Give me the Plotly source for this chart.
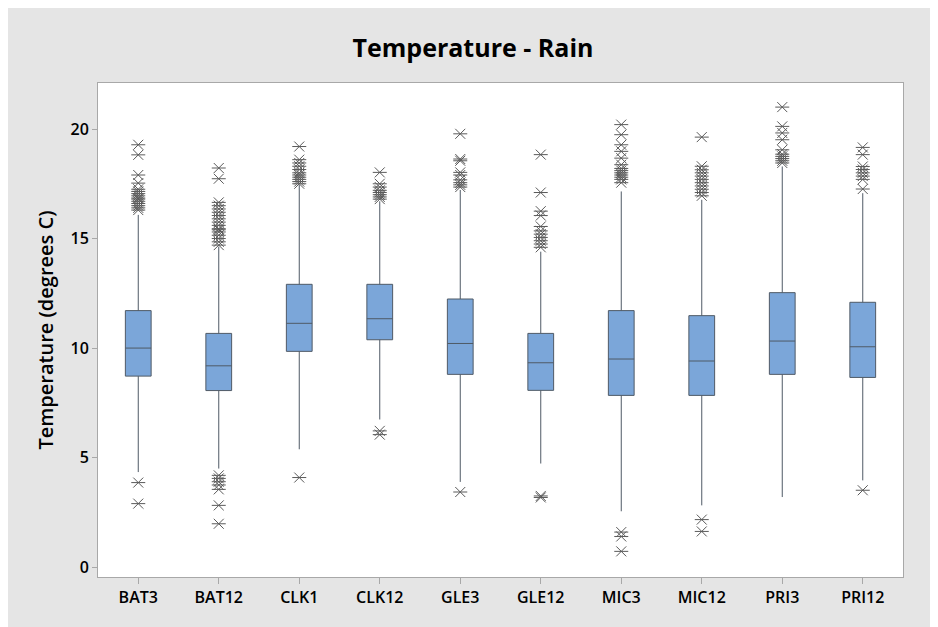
import plotly.graph_objects as go

categories = ["BAT3", "BAT12", "CLK1", "CLK12", "GLE3", "GLE12", "MIC3", "MIC12", "PRI3", "PRI12"]
q1 = [8.72, 8.06, 9.85, 10.38, 8.80, 8.07, 7.84, 7.84, 8.80, 8.66]
median = [10.00, 9.19, 11.13, 11.34, 10.21, 9.33, 9.50, 9.41, 10.32, 10.06]
q3 = [11.71, 10.67, 12.91, 12.91, 12.24, 10.67, 11.71, 11.48, 12.53, 12.09]
lowerfence = [4.34, 4.50, 5.38, 6.74, 3.89, 4.73, 2.55, 2.82, 3.20, 3.96]
upperfence = [16.08, 14.63, 17.45, 16.70, 17.22, 14.40, 17.15, 16.77, 18.29, 17.07]

outliers_BAT3 = [19.28, 18.82, 17.90, 17.53, 17.25, 17.15, 17.05, 16.95, 16.85, 16.80, 16.70, 16.60, 16.50, 16.40, 16.30, 3.86, 2.90]
outliers_BAT12 = [18.22, 17.73, 16.65, 16.50, 16.35, 16.20, 16.05, 15.90, 15.75, 15.60, 15.45, 15.40, 15.30, 15.15, 15.00, 14.85, 14.70, 4.19, 4.05, 3.90, 3.75, 3.55, 2.82, 1.98]
outliers_CLK1 = [19.20, 18.60, 18.45, 18.30, 18.15, 18.00, 17.90, 17.80, 17.70, 17.60, 17.50, 4.09]
outliers_CLK12 = [18.02, 17.50, 17.35, 17.20, 17.10, 17.00, 16.90, 16.80, 6.22, 6.05]
outliers_GLE3 = [19.78, 18.63, 18.55, 18.02, 17.90, 17.68, 17.55, 17.45, 17.35, 3.43]
outliers_GLE12 = [18.83, 17.10, 16.25, 16.05, 15.55, 15.35, 15.20, 15.05, 14.90, 14.75, 14.60, 3.25, 3.18]
outliers_MIC3 = [20.20, 19.74, 19.28, 18.98, 18.67, 18.37, 18.20, 18.10, 18.00, 17.90, 17.80, 17.70, 17.55, 1.60, 1.40, 0.72]
outliers_MIC12 = [19.63, 18.30, 18.14, 18.00, 17.85, 17.70, 17.55, 17.40, 17.25, 17.10, 16.95, 2.17, 1.63]
outliers_PRI3 = [21.00, 20.12, 19.82, 19.51, 19.05, 18.85, 18.75, 18.65, 18.55, 18.45]
outliers_PRI12 = [19.16, 18.83, 18.29, 18.15, 18.00, 17.85, 17.70, 17.26, 3.51]

outliers = [outliers_BAT3, outliers_BAT12, outliers_CLK1, outliers_CLK12, outliers_GLE3,
            outliers_GLE12, outliers_MIC3, outliers_MIC12, outliers_PRI3, outliers_PRI12]

yticks = [0, 5, 10, 15, 20]

FONT = "Open Sans"
W, H = 930, 619
fig = go.Figure()

fig.add_trace(go.Box(
    x=categories, q1=q1, median=median, q3=q3,
    lowerfence=lowerfence, upperfence=upperfence,
    boxpoints=False, whiskerwidth=0, width=0.32,
    fillcolor="#7BA6D9", line=dict(color="#4F5A66", width=1),
    hoverinfo="skip", showlegend=False,
))

ox, oy = [], []
for c, vals in zip(categories, outliers):
    ox += [c] * len(vals)
    oy += vals

for sym in ["x-thin-open", "line-ew-open"]:
    fig.add_trace(go.Scatter(
        x=ox, y=oy, mode="markers", showlegend=False, hoverinfo="skip",
        marker=dict(symbol=sym, size=10, color="#5A5A5A",
                    line=dict(color="#5A5A5A", width=1)),
    ))

fig.update_layout(
    width=W, height=H,
    margin=dict(l=90, r=35, t=75, b=50),
    paper_bgcolor="#E5E5E5",
    plot_bgcolor="white",
    title=dict(text="<b>Temperature - Rain</b>", x=0.5, xanchor="center",
               y=1 - 40 / H, yanchor="middle", yref="container",
               font=dict(family=FONT, size=25, color="black")),
    xaxis=dict(type="category", categoryorder="array", categoryarray=categories,
               range=[-0.5, 9.5], showline=True, mirror=True, linecolor="#A8A8A8",
               linewidth=1, ticks="outside", ticklen=6, tickcolor="#A8A8A8",
               showgrid=False, zeroline=False,
               tickfont=dict(family=FONT, size=16, color="black", weight=600)),
    yaxis=dict(range=[-0.45, 22.1], showline=True, mirror=True, linecolor="#A8A8A8",
               linewidth=1, ticks="outside", ticklen=5, tickcolor="#A8A8A8",
               tickvals=yticks, ticktext=[str(t) for t in yticks],
               showgrid=False, zeroline=False,
               tickfont=dict(family=FONT, size=16, color="black", weight=600),
               title=dict(text="Temperature (degrees C)", standoff=11,
                          font=dict(family=FONT, size=20, color="black", weight=600))),
)

fig.write_html("out.html")
